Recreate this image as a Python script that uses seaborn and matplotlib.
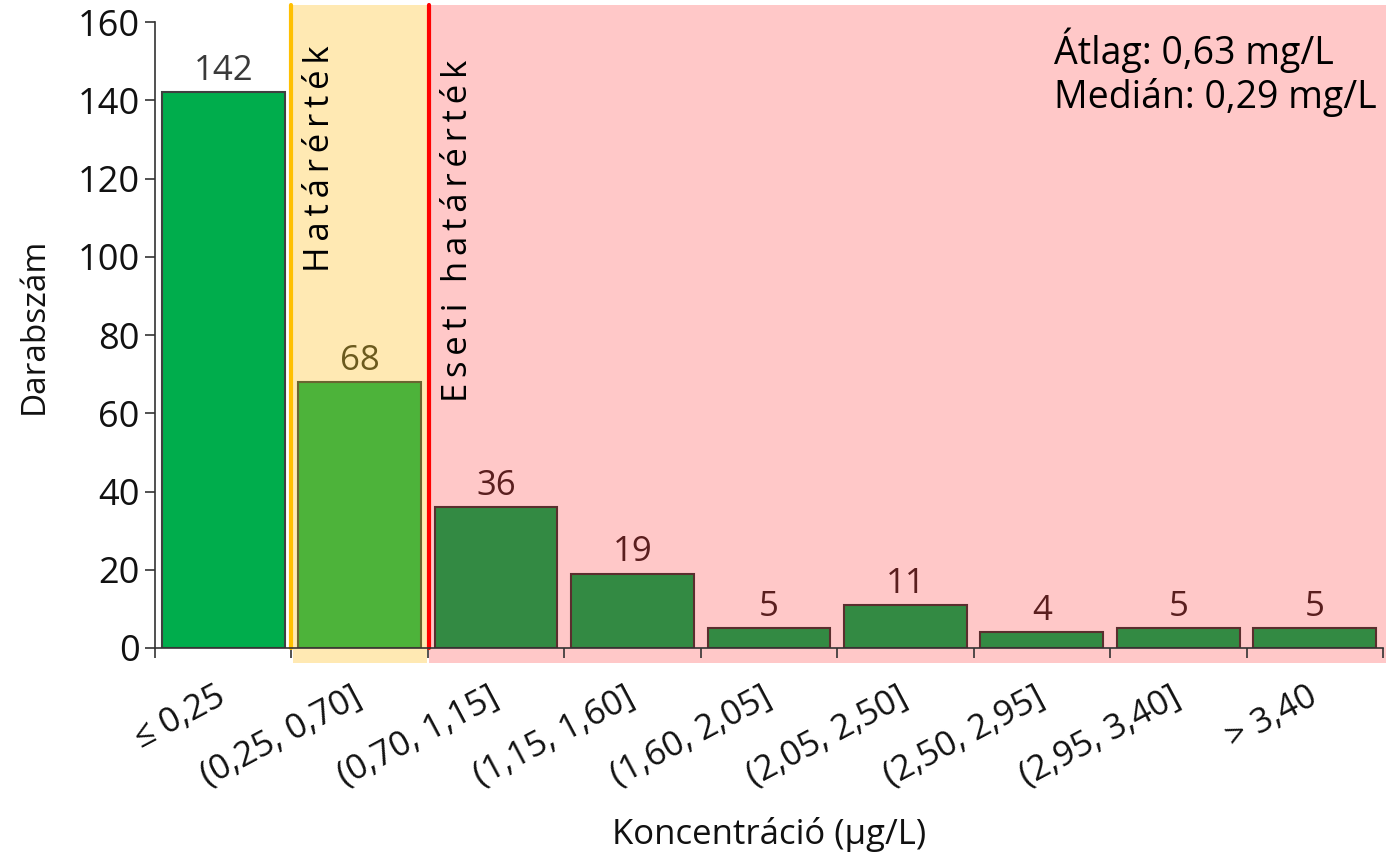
import matplotlib
matplotlib.use('Agg')
import matplotlib.pyplot as plt
import seaborn as sns
import pandas as pd

# Data
categories = ['≤ 0,25', '(0,25, 0,70]', '(0,70, 1,15]', '(1,15, 1,60]', '(1,60, 2,05]',
              '(2,05, 2,50]', '(2,50, 2,95]', '(2,95, 3,40]', '> 3,40']
counts = [142, 68, 36, 19, 5, 11, 4, 5, 5]
bar_colors = ['#00AD4C', '#4DB33A'] + ['#338A43'] * 7
edge_colors = ['#3f3f3f', '#6b6530'] + ['#5b2e2e'] * 7
label_colors = ['#3a3a3a', '#6b5a1e'] + ['#5a1e1e'] * 7
stats_lines = ['Átlag: 0,63 mg/L', 'Medián: 0,29 mg/L']
limit_label = 'Határérték'
case_limit_label = 'Eseti határérték'


def spaced(s):
    # letter spacing like the original (thin spaces between letters)
    return '\u2009'.join(s)


sns.set_theme(style='white')
plt.rcParams['font.family'] = ['Open Sans', 'DejaVu Sans']
plt.rcParams['text.color'] = '#111111'
plt.rcParams['axes.labelcolor'] = '#111111'
plt.rcParams['xtick.color'] = '#111111'
plt.rcParams['ytick.color'] = '#111111'

df = pd.DataFrame({'cat': categories, 'n': counts})

fig = plt.figure(figsize=(13.86, 8.67), dpi=100)
ax = fig.add_axes([0.1118, 0.2526, 0.886, 0.722])

sns.barplot(data=df, x='cat', y='n', hue='cat', palette=bar_colors, legend=False,
            width=0.9, saturation=1, ax=ax, zorder=3)

for cont, ec, lc in zip(ax.containers, edge_colors, label_colors):
    for bar in cont:
        bar.set_edgecolor(ec)
        bar.set_linewidth(1.5)
    for t in ax.bar_label(cont, padding=3, fontsize=25):
        t.set_color(lc)

# background zones (limit / case limit)
ax.axvspan(0.51, 1.495, ymin=-0.024, ymax=1.027, color='#FFE9B3', zorder=0, clip_on=False, lw=0)
ax.axvspan(1.51, 8.52, ymin=-0.024, ymax=1.027, color='#FFC8C8', zorder=0, clip_on=False, lw=0)
ax.plot([0.5, 0.5], [0, 164.3], color='#FFC000', lw=3, zorder=4, clip_on=False)
ax.plot([1.51, 1.51], [0, 164.3], color='#FF0000', lw=3, zorder=4, clip_on=False)

ax.text(0.71, 96, spaced(limit_label), rotation=90, ha='center', va='bottom', fontsize=25,
        color='black', zorder=5)
ax.text(1.72, 63, spaced(case_limit_label), rotation=90, ha='center', va='bottom', fontsize=25,
        color='black', zorder=5)

ax.text(6.09, 152.8, stats_lines[0], ha='left', va='center', fontsize=27, color='black', zorder=5)
ax.text(6.09, 140.6, stats_lines[1], ha='left', va='center', fontsize=27, color='black', zorder=5)

ax.set_xlim(-0.5, 8.5)
ax.set_ylim(0, 160)
ax.set_yticks(range(0, 161, 20))
ax.tick_params(axis='y', labelsize=26, length=7, width=1.2, color='#333333', left=True, pad=4)

ax.set_xticks(range(len(categories)))
ax.set_xticklabels(categories, rotation=28, ha='right', va='center', rotation_mode='anchor', fontsize=25)
ax.tick_params(axis='x', length=0, pad=34)
ax.set_xticks([i - 0.5 for i in range(len(categories) + 1)], minor=True)
ax.tick_params(axis='x', which='minor', length=7, width=1.2, color='#333333', bottom=True)

for s in ['top', 'right']:
    ax.spines[s].set_visible(False)
for s in ['left', 'bottom']:
    ax.spines[s].set_color('#333333')
    ax.spines[s].set_linewidth(1.2)
    ax.spines[s].set_zorder(6)

ax.set_xlabel('Koncentráció (µg/L)', fontsize=25)
ax.set_ylabel('Darabszám', fontsize=24)
ax.xaxis.set_label_coords(0.5, -0.27)
ax.yaxis.set_label_coords(-0.085, 0.515)
ax.set_facecolor('white')

fig.savefig('out.png', dpi=100, facecolor='white')
